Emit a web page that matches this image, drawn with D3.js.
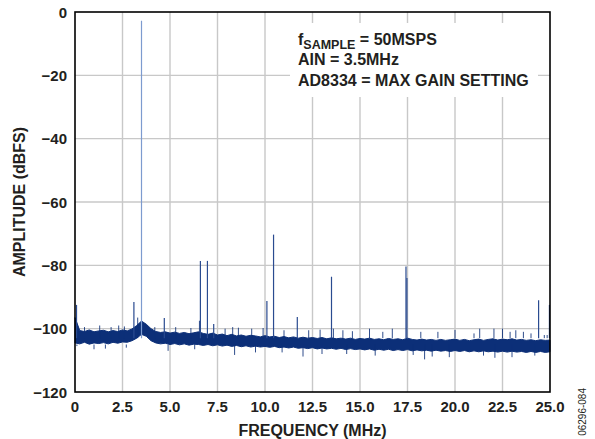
<!DOCTYPE html>
<html>
<head>
<meta charset="utf-8">
<script src="https://cdn.jsdelivr.net/npm/d3@7"></script>
<style>
  body { margin: 0; background: #fff; }
  svg text { font-family: "Liberation Sans", Arial, sans-serif; font-weight: bold; fill: #231f20; }
</style>
</head>
<body>
<div id="chart"></div>
<script>
// tick labels
const xTicks = [0, 2.5, 5, 7.5, 10, 12.5, 15, 17.5, 20, 22.5, 25];
const yTicks = [0, -20, -40, -60, -80, -100, -120];

// noise floor envelope, one value every 0.25 MHz from 0 to 25 MHz (dBFS)
const bandStep = 0.25;
const bandTop = [
  -96.5, -100.6, -100.9, -100.4, -101.0, -100.7, -100.5, -101.0, -100.6, -100.9,
  -100.4, -100.7, -100.1, -99.0, -97.6, -98.6, -100.0, -100.9, -101.2, -101.0,
  -101.4, -101.1, -101.5, -101.2, -101.6, -101.3, -101.0, -101.5, -101.8, -101.4,
  -102.0, -101.7, -102.2, -101.8, -102.3, -102.0, -102.4, -102.1, -102.3, -102.6,
  -102.2, -102.6, -102.4, -102.8, -102.5, -102.9, -102.6, -103.0, -102.7, -103.0,
  -102.8, -103.1, -102.8, -103.2, -102.9, -103.2, -103.0, -103.3, -103.0, -103.4,
  -103.1, -103.3, -103.0, -103.4, -103.2, -103.5, -103.1, -103.4, -103.2, -103.5,
  -103.0, -103.4, -103.6, -103.3, -103.6, -103.4, -103.7, -103.4, -103.7, -103.5,
  -103.3, -103.7, -103.4, -103.8, -103.5, -103.3, -103.7, -103.4, -103.2, -103.6,
  -103.3, -103.5, -103.2, -103.6, -103.4, -103.7, -103.5, -103.8, -103.5, -103.7,
  -103.6
];
const bandBottom = [
  -104.5, -104.8, -104.3, -104.9, -104.5, -104.7, -104.4, -104.8, -104.3, -104.6,
  -104.2, -104.3, -103.8, -103.0, -101.8, -102.4, -103.8, -104.5, -104.8, -104.6,
  -105.0, -104.7, -105.1, -104.8, -105.2, -104.9, -105.0, -105.3, -105.0, -105.4,
  -105.1, -105.5, -105.2, -105.6, -105.3, -105.7, -105.4, -105.8, -105.5, -105.8,
  -105.6, -105.9, -105.6, -106.0, -105.8, -106.1, -105.8, -106.2, -106.0, -106.3,
  -106.0, -106.4, -106.1, -106.4, -106.2, -106.5, -106.2, -106.6, -106.3, -106.6,
  -106.4, -106.7, -106.4, -106.8, -106.5, -106.8, -106.5, -106.9, -106.6, -106.9,
  -106.6, -107.0, -106.7, -107.0, -106.8, -107.1, -106.8, -107.1, -106.9, -107.2,
  -106.9, -107.2, -106.9, -107.3, -107.0, -107.3, -107.0, -107.3, -107.1, -107.4,
  -107.1, -107.4, -107.1, -107.4, -107.2, -107.5, -107.2, -107.5, -107.2, -107.5,
  -107.3
];

// spurs: [frequency MHz, peak dBFS]
const spurs = [
  [0.08, -92.5], [3.1, -91.6], [3.5, -2.8], [4.7, -96.6], [6.6, -78.6],
  [6.97, -78.6], [7.3, -98.5], [10.1, -91.3], [10.45, -70.3], [11.7, -96.3],
  [13.5, -83.6], [17.42, -80.4], [17.47, -84.0], [24.4, -91.0], [24.97, -92.5]
];
// small noise peaks sticking out of the floor
const grassUp = [
  [0.5, -99.5], [1.3, -99.0], [1.9, -99.5], [2.3, -99.0], [2.6, -99.3], [3.3, -96.5],
  [4.2, -99.5], [5.3, -99.5], [6.1, -99.8], [6.55, -97.5], [7.9, -100.0], [8.3, -99.5],
  [8.6, -99.7], [9.3, -100.0], [9.9, -99.8], [11.0, -100.5], [12.3, -100.5], [12.9, -100.3],
  [13.6, -100.0], [14.1, -100.5], [14.6, -100.8], [15.5, -100.0], [16.2, -101.0], [16.7, -100.0],
  [18.2, -101.0], [19.1, -101.0], [20.0, -100.4], [21.0, -101.5], [21.3, -100.0], [22.05, -100.0],
  [22.5, -100.0], [22.9, -101.0], [23.2, -100.5], [23.6, -101.0], [24.0, -101.5], [24.7, -102.0],
  [24.85, -102.0]
];
const grassDown = [
  [0.1, -105.5], [1.0, -106.5], [1.6, -106.3], [2.7, -106.0], [4.9, -107.0], [6.3, -106.5],
  [8.4, -108.3], [9.5, -107.5], [10.9, -107.5], [12.0, -108.8], [13.0, -108.0], [14.3, -108.0],
  [15.8, -108.5], [17.8, -108.3], [18.4, -109.7], [18.8, -108.8], [19.7, -109.0], [21.5, -108.5],
  [22.1, -109.2], [23.0, -109.0], [24.2, -108.5]
];

const width = 595, height = 439;
const margin = { top: 12, right: 45, bottom: 47, left: 75 };
const traceColor = '#0c2f78';

const svg = d3.select('#chart').append('svg')
  .attr('width', width).attr('height', height)
  .style('background', '#fff');

const x = d3.scaleLinear().domain([0, 25]).range([margin.left, width - margin.right]);
const y = d3.scaleLinear().domain([-120, 0]).range([height - margin.bottom, margin.top]);

// grid
const grid = svg.append('g').attr('stroke', '#c8c8c8').attr('stroke-width', 1.4);
grid.selectAll('line.vx').data(xTicks.slice(1, -1)).enter().append('line')
  .attr('x1', (d) => x(d)).attr('x2', (d) => x(d))
  .attr('y1', y(0)).attr('y2', y(-120));
grid.selectAll('line.hy').data(yTicks.slice(1, -1)).enter().append('line')
  .attr('x1', x(0)).attr('x2', x(25))
  .attr('y1', (d) => y(d)).attr('y2', (d) => y(d));

// white box behind the notes
svg.append('rect')
  .attr('x', 290).attr('y', 23).attr('width', 248).attr('height', 74)
  .attr('fill', '#fff');

const plot = svg.append('g');

// noise floor band
const band = bandTop.map((t, i) => ({ f: i * bandStep, top: t, bot: bandBottom[i] }));
plot.append('path')
  .datum(band)
  .attr('fill', traceColor)
  .attr('stroke', traceColor)
  .attr('stroke-width', 1)
  .attr('d', d3.area().x((d) => x(d.f)).y0((d) => y(d.bot)).y1((d) => y(d.top)));

// grass
plot.selectAll('line.up').data(grassUp).enter().append('line')
  .attr('x1', (d) => x(d[0])).attr('x2', (d) => x(d[0]))
  .attr('y1', (d) => y(d[1])).attr('y2', (d) => y(-103))
  .attr('stroke', traceColor).attr('stroke-width', 1).attr('opacity', 0.85);
plot.selectAll('line.down').data(grassDown).enter().append('line')
  .attr('x1', (d) => x(d[0])).attr('x2', (d) => x(d[0]))
  .attr('y1', (d) => y(-105)).attr('y2', (d) => y(d[1]))
  .attr('stroke', traceColor).attr('stroke-width', 1).attr('opacity', 0.85);

// spurs
plot.selectAll('line.spur').data(spurs).enter().append('line')
  .attr('x1', (d) => x(d[0])).attr('x2', (d) => x(d[0]))
  .attr('y1', (d) => y(d[1])).attr('y2', (d) => y(-103))
  .attr('stroke', (d) => (d[1] > -20 ? '#7d9bcf' : '#2a4b90'))
  .attr('stroke-width', 1.2);

// frame
svg.append('rect')
  .attr('x', x(0)).attr('y', y(0))
  .attr('width', x(25) - x(0)).attr('height', y(-120) - y(0))
  .attr('fill', 'none').attr('stroke', '#000').attr('stroke-width', 1.6);

// tick labels
svg.selectAll('text.xt').data(xTicks).enter().append('text')
  .attr('x', (d) => x(d)).attr('y', height - margin.bottom + 20)
  .attr('text-anchor', 'middle').attr('font-size', 15)
  .text((d) => (d === 0 ? '0' : d3.format('.1f')(d)));
svg.selectAll('text.yt').data(yTicks).enter().append('text')
  .attr('x', margin.left - 8).attr('y', (d) => y(d))
  .attr('text-anchor', 'end').attr('dominant-baseline', 'central').attr('font-size', 15)
  .text((d) => (d === 0 ? '0' : '\u2212' + Math.abs(d)));

// axis titles
svg.append('text')
  .attr('x', (x(0) + x(25)) / 2).attr('y', 436)
  .attr('text-anchor', 'middle').attr('font-size', 16)
  .text('FREQUENCY (MHz)');
svg.append('text')
  .attr('transform', 'translate(25,' + (y(-60)) + ') rotate(-90)')
  .attr('text-anchor', 'middle').attr('font-size', 16)
  .text('AMPLITUDE (dBFS)');

// notes
const notes = svg.append('g').attr('font-size', 16);
const n1 = notes.append('text').attr('x', 298).attr('y', 45);
n1.append('tspan').text('f');
n1.append('tspan').attr('font-size', 12.5).attr('dy', 3.5).text('SAMPLE');
n1.append('tspan').attr('dy', -3.5).text(' = 50MSPS');
notes.append('text').attr('x', 298).attr('y', 65).text('AIN = 3.5MHz');
notes.append('text').attr('x', 298).attr('y', 86).text('AD8334 = MAX GAIN SETTING');

// figure id
svg.append('text')
  .attr('transform', 'translate(586,388) rotate(-90)')
  .attr('text-anchor', 'end').attr('font-size', 10)
  .style('font-weight', 'normal')
  .text('06296-084');
</script>
</body>
</html>
